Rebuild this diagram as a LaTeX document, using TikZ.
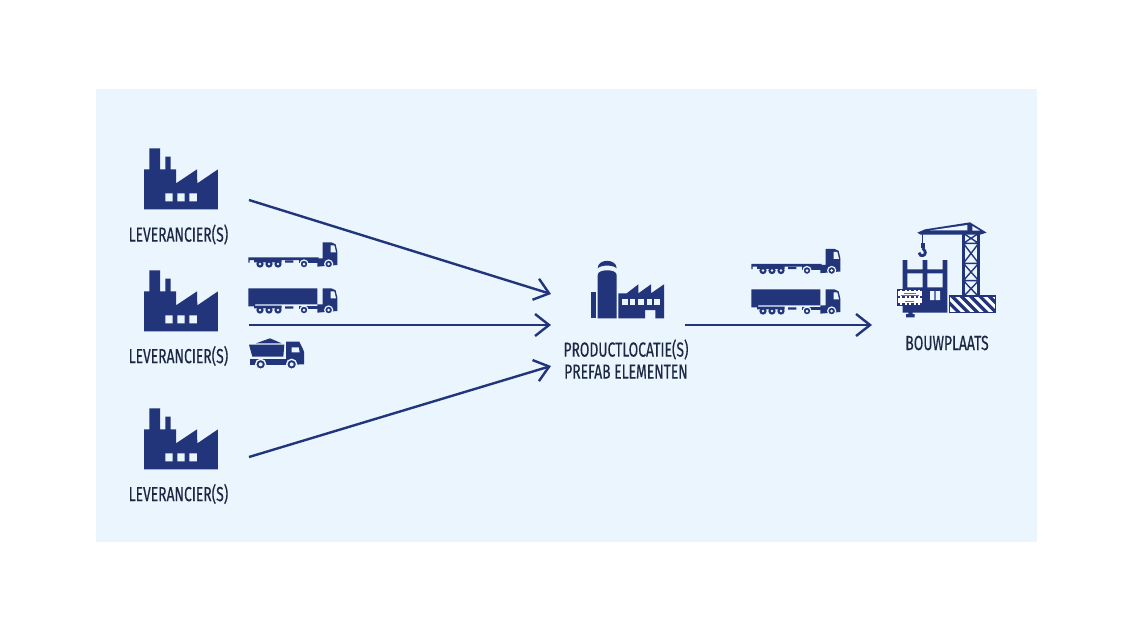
\documentclass[tikz,border=0pt]{standalone}
\usepackage{fontspec}
\setmainfont[FakeStretch=0.68,FakeBold=0.35]{Fira Sans}
\usetikzlibrary{arrows.meta}
\definecolor{panel}{HTML}{EAF5FE}
\definecolor{navy}{HTML}{22357A}
\definecolor{ink}{HTML}{1C2742}
\tikzset{
  flow/.style={draw=navy,line width=1.2pt,-{Straight Barb[length=7pt,width=11pt,line width=1.2pt]}},
  caption/.style={text=ink,font=\fontsize{10.2}{11}\selectfont,align=center,inner sep=0pt},
  solid navy/.style={fill=navy,draw=none},
  cutout/.style={fill=panel,draw=none},
  pics/factory/.style={code={
    \begin{scope}[scale=1/3]
      \path[solid navy] (72,208) -- (72,88) -- (88,88) -- (88,25) -- (120,25) -- (120,88) -- (136,88)
        -- (136,50) -- (152,50) -- (152,88) -- (168,88) -- (168,130) -- (231,88) -- (232,130)
        -- (294,88) -- (294,208) -- cycle;
      \path[cutout] (136,160) rectangle (158,184) (172,160) rectangle (194,184) (208,160) rectangle (231,184);
    \end{scope}}},
  pics/cab/.style={code={
    \begin{scope}[scale=1/3]
      \path[solid navy] (232,70) -- (248,70) -- (248,22) -- (274,22) -- (287,28) -- (292,50) -- (292,90)
        -- (232,95) -- cycle;
      \path[cutout] (272,31) -- (283,31) -- (288,52) -- (272,52) -- cycle;
      \path[solid navy] (176,74) rectangle (236,84);
      \path[draw=panel,line width=.6pt,fill=navy] (266,87) circle (12);
      \path[cutout] (266,87) circle (4.5);
      \path[draw=panel,line width=.6pt,fill=navy] (192,87) circle (12);
      \path[cutout] (192,87) circle (4.5);
      \path[solid navy] (42,74) rectangle (125,82) (135,76) rectangle (160,83);
      \foreach \cx in {60,87,114}{
        \path[solid navy] (\cx,87) circle (11);
        \path[cutout] (\cx,87) circle (4);}
    \end{scope}}},
  pics/flatbed/.style={code={
    \begin{scope}[scale=1/3]
      \path[solid navy] (25,67) rectangle (236,75) (25,67) rectangle (29,83);
    \end{scope}
    \pic {cab};}},
  pics/boxtruck/.style={code={
    \begin{scope}[scale=1/3]
      \path[solid navy] (25,22) rectangle (232,70) (25,70) -- (45,70) -- (45,76) -- (25,76) -- cycle;
    \end{scope}
    \pic {cab};}},
  pics/dumper/.style={code={
    \begin{scope}[scale=1/3]
      \path[solid navy] (48,325) -- (90,310) -- (125,325) -- cycle;
      \path[solid navy] (27,329) -- (133,329) -- (130,365) -- (37,365) -- cycle;
      \path[solid navy] (30,372) rectangle (135,390);
      \path[solid navy] (138,320) -- (178,320) -- (188,340) -- (192,350) -- (192,388) -- (130,390) -- (130,372) -- (138,372) -- cycle;
      \path[cutout] (155,337) -- (176,337) -- (179,352) -- (155,352) -- cycle;
      \path[draw=panel,line width=.7pt,fill=navy] (62,388) circle (15);
      \path[cutout] (62,388) circle (6);
      \path[draw=panel,line width=.7pt,fill=navy] (155,388) circle (15);
      \path[cutout] (155,388) circle (6);
    \end{scope}}},
  pics/plant/.style={code={
    \begin{scope}[scale=1/3]
      \path[solid navy] (122,157) rectangle (138,235);
      \path[solid navy] (143,235) -- (143,105) .. controls (143,86) and (200,86) .. (200,105) -- (200,235) -- cycle;
      \path[solid navy] (143,85) .. controls (143,55) and (200,55) .. (200,85) .. controls (190,74) and (153,74) .. (143,85) -- cycle;
      \path[solid navy] (205,235) -- (205,160) -- (230,160) -- (265,133) -- (265,160) -- (303,133)
        -- (303,160) -- (342,133) -- (342,235) -- (316,235) -- (316,210) -- (285,210) -- (285,235) -- cycle;
      \foreach \wx in {217,240,265,290,313}{\path[cutout] (\wx,177) rectangle +(16,18);}
    \end{scope}}},
  pics/site/.style={code={
    \begin{scope}[scale=1/3]
      % crane tower and jib
      \path[solid navy] (112,68) -- (135,58) -- (270,37) -- (320,68) -- (300,74) -- (122,74) -- cycle;
      \path[cutout] (150,61) -- (262,45) -- (262,61) -- cycle;
      \path[cutout] (277,48) -- (300,62) -- (277,62) -- cycle;
      \draw[navy,line width=1.3pt] (250,70) -- (250,260) (296,70) -- (296,260);
      \draw[navy,line width=.7pt] (250,100) -- (296,100) (250,160) -- (296,160) (250,212) -- (296,212)
        (250,70) -- (296,100) (296,70) -- (250,100) (250,100) -- (296,160) (296,100) -- (250,160)
        (250,160) -- (296,212) (296,160) -- (250,212) (250,212) -- (296,260) (296,212) -- (250,260);
      % hook
      \draw[navy,line width=.7pt] (128,72) -- (128,100);
      \path[solid navy] (122,100) rectangle (134,114);
      \draw[navy,line width=1.4pt] (128,114) -- (134,122) .. controls (140,130) and (132,140) .. (122,136) -- (117,128);
      % tower footing
      \begin{scope}
        \clip (208,258) rectangle (346,308);
        \fill[white] (208,258) rectangle (346,308);
        \foreach \sx in {180,208,...,360}{
          \path[solid navy] (\sx,258) -- ++(14,0) -- ++(50,50) -- ++(-14,0) -- cycle;}
      \end{scope}
      \draw[navy,line width=.8pt] (208,258) rectangle (346,308);
      % building under construction
      \path[solid navy] (68,150) -- (82,150) -- (82,178) -- (128,178) -- (128,150) -- (142,150) -- (142,178)
        -- (188,178) -- (188,150) -- (202,150) -- (202,308) -- (68,308) -- cycle;
      \path[cutout] (82,190) rectangle (128,232) (142,190) rectangle (188,232);
      \path[cutout] (150,243) rectangle (163,270) (167,243) rectangle (180,270);
      % site notice board
      \path[solid navy] (85,285) rectangle (98,315) (78,312) rectangle (104,322);
      \path[fill=white,draw=navy,line width=.5pt] (52,237) rectangle (127,287);
      \draw[navy,line width=1pt,dash pattern=on 1.2pt off 1pt] (54,241) -- (125,241) (54,262) -- (125,262) (54,283) -- (125,283);
      \draw[navy!70,line width=.45pt] (72,250) -- (107,250) (62,255) -- (117,255) (76,273) -- (103,273);
    \end{scope}}}
}
\begin{document}
\begin{tikzpicture}[x=0.5pt,y=-0.5pt]
  \useasboundingbox (0,0) rectangle (1137,633);
  \fill[white] (0,0) rectangle (1137,633);
  \fill[panel] (96,89) rectangle (1037,542);

  % suppliers
  \pic (factoryA) at (120,140) {factory};
  \pic (factoryB) at (120,262) {factory};
  \pic (factoryC) at (120,400) {factory};
  \node[caption] (labelA) at (178.5,234.5) {LEVERANCIER(S)};
  \node[caption] (labelB) at (178.5,356) {LEVERANCIER(S)};
  \node[caption] (labelC) at (178.5,494) {LEVERANCIER(S)};

  % vehicles on the inbound leg
  \pic (flatA) at (240,235) {flatbed};
  \pic (boxA) at (240,281) {boxtruck};
  \pic (dump) at (240,235) {dumper};

  % production site
  \pic (plant) at (550,240) {plant};
  \node[caption] (labelP) at (626,359) {PRODUCTLOCATIE(S)\\PREFAB ELEMENTEN};

  % vehicles on the outbound leg
  \pic (flatB) at (743,241.5) {flatbed};
  \pic (boxB) at (743,282) {boxtruck};

  % building site
  \pic (site) at (880,210) {site};
  \node[caption] (labelS) at (947,343) {BOUWPLAATS};

  % connector ends
  \coordinate (fromA) at (249,200);
  \coordinate (fromB) at (249,325);
  \coordinate (fromC) at (249,457);
  \coordinate (intoA) at (551,294);
  \coordinate (intoB) at (551,325);
  \coordinate (intoC) at (551,366);
  \coordinate (fromP) at (685,325);
  \coordinate (intoS) at (872,325);
  \draw[flow] (fromA) -- (intoA);
  \draw[flow] (fromB) -- (intoB);
  \draw[flow] (fromC) -- (intoC);
  \draw[flow] (fromP) -- (intoS);
\end{tikzpicture}
\end{document}
